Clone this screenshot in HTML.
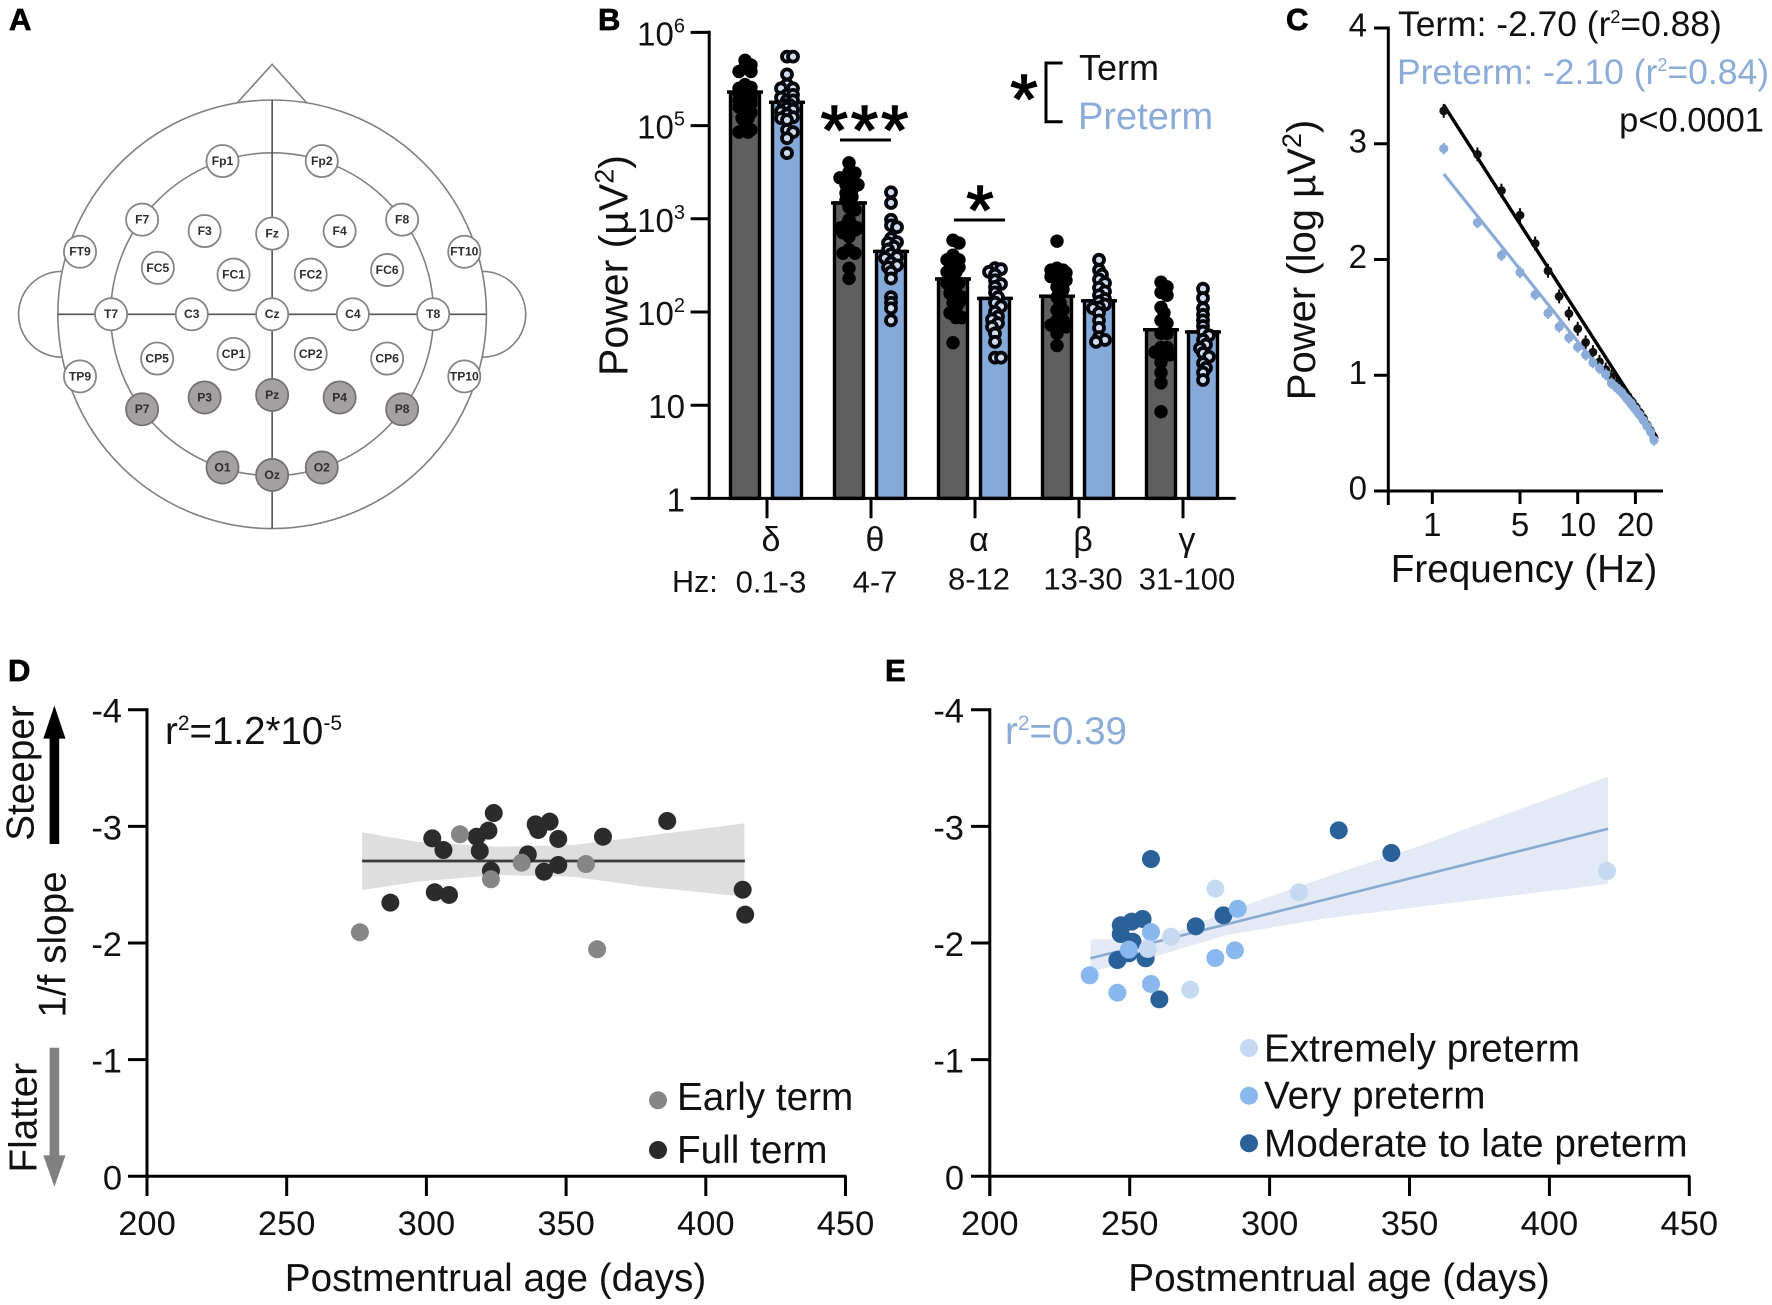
<!DOCTYPE html>
<html lang="en">
<head>
<meta charset="utf-8">
<title>EEG power and 1/f slope</title>
<style>
html,body{margin:0;padding:0;background:#fff;}
svg{display:block;font-family:"Liberation Sans",Arial,sans-serif;}
text{fill:#111;}
.panel-letter{font-weight:bold;font-size:31px;fill:#000;stroke:#000;stroke-width:.7px;}
.ttl{font-size:38.7px;}
.blue{fill:#8bacd8;}
.star{stroke:#000;stroke-width:1.5px;fill:#000;}
.el text{font-size:34px;font-weight:bold;text-anchor:middle;fill:#2d2d2d;}
.el circle{stroke:#858585;stroke-width:5;fill:#fff;}
.el.on circle{fill:#a5a1a2;stroke:#737373;}
</style>
</head>
<body>
<svg xmlns="http://www.w3.org/2000/svg" width="1772" height="1305" viewBox="0 0 1772 1305">
<rect width="1772" height="1305" fill="#fff"/>

<text class="panel-letter" x="9" y="30">A</text>
<text class="panel-letter" x="598" y="30">B</text>
<text class="panel-letter" x="1286" y="30">C</text>
<text class="panel-letter" x="8" y="681">D</text>
<text class="panel-letter" x="885" y="681">E</text>

<!-- Panel A: electrode montage -->
<g transform="scale(0.35714)">
  <g fill="none" stroke="#808080" stroke-width="4.5">
    <path d="M665 287 L762 180 L858 287"/>
    <path d="M172 760 A120 120 0 0 0 172 1000"/>
    <path d="M1352 760 A120 120 0 0 1 1352 1000"/>
    <circle cx="762" cy="880" r="600"/>
    <circle cx="762" cy="880" r="452"/>
    <path d="M762 280 V1480" stroke="#555"/>
    <path d="M162 880 H1362" stroke="#555"/>
  </g>
  <g class="el"><circle cx="623" cy="451" r="45"/><text x="623" y="462">Fp1</text></g>
  <g class="el"><circle cx="901" cy="451" r="45"/><text x="901" y="462">Fp2</text></g>
  <g class="el"><circle cx="398" cy="615" r="45"/><text x="398" y="626">F7</text></g>
  <g class="el"><circle cx="573" cy="647" r="45"/><text x="573" y="658">F3</text></g>
  <g class="el"><circle cx="762" cy="654" r="45"/><text x="762" y="665">Fz</text></g>
  <g class="el"><circle cx="951" cy="647" r="45"/><text x="951" y="658">F4</text></g>
  <g class="el"><circle cx="1126" cy="615" r="45"/><text x="1126" y="626">F8</text></g>
  <g class="el"><circle cx="224" cy="705" r="45"/><text x="224" y="716">FT9</text></g>
  <g class="el"><circle cx="1300" cy="705" r="45"/><text x="1300" y="716">FT10</text></g>
  <g class="el"><circle cx="442" cy="750" r="45"/><text x="442" y="761">FC5</text></g>
  <g class="el"><circle cx="654" cy="769" r="45"/><text x="654" y="780">FC1</text></g>
  <g class="el"><circle cx="870" cy="769" r="45"/><text x="870" y="780">FC2</text></g>
  <g class="el"><circle cx="1084" cy="756" r="45"/><text x="1084" y="767">FC6</text></g>
  <g class="el"><circle cx="311" cy="880" r="45"/><text x="311" y="891">T7</text></g>
  <g class="el"><circle cx="537" cy="880" r="45"/><text x="537" y="891">C3</text></g>
  <g class="el"><circle cx="762" cy="880" r="45"/><text x="762" y="891">Cz</text></g>
  <g class="el"><circle cx="988" cy="880" r="45"/><text x="988" y="891">C4</text></g>
  <g class="el"><circle cx="1213" cy="880" r="45"/><text x="1213" y="891">T8</text></g>
  <g class="el"><circle cx="224" cy="1054" r="45"/><text x="224" y="1065">TP9</text></g>
  <g class="el"><circle cx="1300" cy="1054" r="45"/><text x="1300" y="1065">TP10</text></g>
  <g class="el"><circle cx="440" cy="1004" r="45"/><text x="440" y="1015">CP5</text></g>
  <g class="el"><circle cx="654" cy="991" r="45"/><text x="654" y="1002">CP1</text></g>
  <g class="el"><circle cx="870" cy="991" r="45"/><text x="870" y="1002">CP2</text></g>
  <g class="el"><circle cx="1084" cy="1004" r="45"/><text x="1084" y="1015">CP6</text></g>
  <g class="el on"><circle cx="398" cy="1146" r="45"/><text x="398" y="1157">P7</text></g>
  <g class="el on"><circle cx="573" cy="1113" r="45"/><text x="573" y="1124">P3</text></g>
  <g class="el on"><circle cx="762" cy="1106" r="45"/><text x="762" y="1117">Pz</text></g>
  <g class="el on"><circle cx="951" cy="1113" r="45"/><text x="951" y="1124">P4</text></g>
  <g class="el on"><circle cx="1126" cy="1146" r="45"/><text x="1126" y="1157">P8</text></g>
  <g class="el on"><circle cx="623" cy="1309" r="45"/><text x="623" y="1320">O1</text></g>
  <g class="el on"><circle cx="762" cy="1330" r="45"/><text x="762" y="1341">Oz</text></g>
  <g class="el on"><circle cx="901" cy="1309" r="45"/><text x="901" y="1320">O2</text></g>
</g>

<!-- Panel B -->
<g id="panelB">
  <text transform="translate(627.5,265.5) rotate(-90)" text-anchor="middle" font-size="41">Power (µV<tspan font-size="27" dy="-14">2</tspan><tspan dy="14">)</tspan></text>
  <text x="672" y="592" font-size="30.5">Hz:</text>
  <path d="M1062.6 63 H1046 V121.8 H1062.6" fill="none" stroke="#000" stroke-width="3"/>
  <text class="star" x="1024" y="123" font-size="70" text-anchor="middle">*</text>
  <text x="1079" y="80" font-size="36">Term</text>
  <text class="blue" x="1078" y="129" font-size="38">Preterm</text>
  <text class="star" x="866" y="154" font-size="70" text-anchor="middle" letter-spacing="3">***</text>
  <line x1="840" x2="891" y1="140" y2="140" stroke="#000" stroke-width="3"/>
  <text class="star" x="980" y="234" font-size="70" text-anchor="middle">*</text>
  <line x1="954" x2="1005" y1="220" y2="220" stroke="#000" stroke-width="3"/>
</g>

<!-- Panel C -->
<g id="panelC">
  <text x="1398" y="36" font-size="35.4">Term: -2.70 (r<tspan font-size="18" dy="-13">2</tspan><tspan dy="13">=0.88)</tspan></text>
  <text class="blue" x="1397" y="84" font-size="35.5">Preterm: -2.10 (r<tspan font-size="18" dy="-13">2</tspan><tspan dy="13">=0.84)</tspan></text>
  <text x="1764" y="131.5" font-size="34.5" text-anchor="end">p&lt;0.0001</text>
  <text transform="translate(1315,260) rotate(-90)" text-anchor="middle" font-size="40">Power (log µV<tspan font-size="27" dy="-14">2</tspan><tspan dy="14">)</tspan></text>
  <text x="1524" y="582" text-anchor="middle" class="ttl">Frequency (Hz)</text>
</g>

<!-- Panel D -->
<g id="panelD">
  <polygon points="54.4,705.6 65.5,738.6 59.2,738.6 59.2,844 49.6,844 49.6,738.6 43.3,738.6" fill="#000"/>
  <polygon points="54.4,1186.8 65.5,1155.4 59.2,1155.4 59.2,1047.7 49.6,1047.7 49.6,1155.4 43.3,1155.4" fill="#808080"/>
  <text transform="translate(33.7,773) rotate(-90)" text-anchor="middle" class="ttl">Steeper</text>
  <text transform="translate(65.6,944.5) rotate(-90)" text-anchor="middle" class="ttl">1/f slope</text>
  <text transform="translate(36.5,1117.7) rotate(-90)" text-anchor="middle" class="ttl">Flatter</text>
  <text x="165" y="744" font-size="38.5">r<tspan font-size="21" dy="-14">2</tspan><tspan dy="14">=1.2*10</tspan><tspan font-size="21" dy="-14">-5</tspan></text>
  <text x="495.5" y="1291" text-anchor="middle" class="ttl">Postmentrual age (days)</text>
  <circle cx="658" cy="1100.3" r="9" fill="#868686"/>
  <text x="677" y="1110" class="ttl">Early term</text>
  <circle cx="658" cy="1150" r="9" fill="#2b2b2b"/>
  <text x="677" y="1163" class="ttl">Full term</text>
</g>

<!-- Panel E -->
<g id="panelE">
  <text class="blue" x="1005" y="744" font-size="38.5">r<tspan font-size="21" dy="-14">2</tspan><tspan dy="14">=0.39</tspan></text>
  <text x="1339" y="1291" text-anchor="middle" class="ttl">Postmentrual age (days)</text>
  <circle cx="1249" cy="1048" r="9" fill="#c5d9f1"/>
  <text x="1264" y="1061.4" class="ttl">Extremely preterm</text>
  <circle cx="1249" cy="1095.7" r="9" fill="#88b8ee"/>
  <text x="1264" y="1108.6" class="ttl">Very preterm</text>
  <circle cx="1249" cy="1143.3" r="9" fill="#2b6199"/>
  <text x="1264" y="1156.3" class="ttl">Moderate to late preterm</text>
</g>

<script>
/* ---------- Panel B data (log10 µV²) ---------- */
const bandNames = ['δ','θ','α','β','γ'];
const bandRanges = ['0.1-3','4-7','8-12','13-30','31-100'];
const powerTickLog = [0,1,2,3,5,6];
const powerTickBase = ['1','10','10','10','10','10'];
const powerTickExp = ['','','2','3','5','6'];
const termMeanLog = [5.36,3.34,2.354,2.17,1.81];
const pretermMeanLog = [5.25,2.65,2.146,2.12,1.786];
const termDelta = [5.70,5.65,5.63,5.58,5.58,5.44,5.41,5.40,5.38,5.38,5.35,5.35,5.31,5.31,5.27,5.27,5.24,5.24,5.20,5.20,5.14,5.14,5.08,5.08,5.03,4.91,4.91,4.86,4.86];
const termTheta = [4.20,4.00,3.98,3.88,3.88,3.77,3.73,3.73,3.62,3.55,3.47,3.40,3.25,3.19,2.99,2.93,2.93,2.90,2.90,2.88,2.88,2.85,2.81,2.67,2.63,2.63,2.47,2.36];
const termAlpha = [2.77,2.74,2.61,2.56,2.56,2.48,2.48,2.43,2.43,2.36,2.31,2.31,2.26,2.20,2.20,2.16,2.10,2.10,2.04,1.99,1.94,1.94,1.67];
const termBeta = [2.76,2.47,2.45,2.45,2.42,2.42,2.38,2.38,2.34,2.27,2.24,2.16,2.10,2.02,2.02,1.91,1.91,1.86,1.86,1.84,1.84,1.77,1.64];
const termGamma = [2.32,2.27,2.21,2.18,2.05,1.99,1.91,1.88,1.77,1.77,1.62,1.62,1.57,1.57,1.54,1.54,1.46,1.35,1.24,0.93];
const pretermDelta = [5.74,5.74,5.55,5.44,5.40,5.40,5.33,5.33,5.30,5.27,5.27,5.22,5.22,5.19,5.17,5.15,5.12,5.09,5.08,5.06,4.91,4.86,4.73,4.41];
const pretermTheta = [3.57,3.34,2.99,2.93,2.91,2.79,2.75,2.74,2.70,2.67,2.62,2.59,2.58,2.53,2.50,2.48,2.43,2.36,2.16,2.10,2.04,1.91];
const pretermAlpha = [2.47,2.46,2.43,2.40,2.34,2.30,2.27,2.21,2.16,2.10,2.06,2.00,1.95,1.92,1.88,1.84,1.77,1.68,1.51,1.51];
const pretermBeta = [2.56,2.45,2.40,2.35,2.31,2.26,2.22,2.18,2.14,2.11,2.08,2.05,2.04,1.99,1.91,1.83,1.73,1.70,1.68];
const pretermGamma = [2.25,2.15,2.04,1.97,1.91,1.85,1.79,1.75,1.70,1.65,1.61,1.56,1.52,1.45,1.40,1.35,1.27];

/* ---------- Panel C data ---------- */
const freqHz = [2,3,4,5,6,7,8,9,10,11,12,13,14,15,16,17,18,19,20,21,22,23,24,25];
const termSpectrum = [3.284,2.908,2.595,2.383,2.138,1.903,1.681,1.533,1.402,1.284,1.2,1.116,1.049,0.988,0.93,0.87,0.82,0.78,0.73,0.68,0.63,0.57,0.52,0.46];
const pretermSpectrum = [2.958,2.319,2.037,1.889,1.697,1.536,1.418,1.324,1.244,1.176,1.109,1.059,1.008,0.931,0.89,0.85,0.80,0.76,0.71,0.66,0.61,0.56,0.51,0.44];
const spectrumFitHz = [2,25.6];
const termFit = [3.334,0.477];
const pretermFit = [2.74,0.444];
const spectrumYTicks = [0,1,2,3,4];
const spectrumXTicks = [1.744,5,10,20];
const spectrumXLabels = ['1','5','10','20'];

/* ---------- Panels D / E data ---------- */
const slopeTicks = [-4,-3,-2,-1,0];
const ageTicks = [200,250,300,350,400,450];
const fullTermDays = [324.1,302.1,306.1,322.2,318,319.1,323.1,339.1,340,344.1,347.2,363.2,386.2,336.3,347.2,342.1,303,308.1,287.1,413.2,414.1];
const fullTermSlope = [-3.114,-2.897,-2.797,-2.963,-2.911,-2.789,-2.62,-3.017,-2.969,-3.04,-2.892,-2.911,-3.046,-2.76,-2.669,-2.611,-2.435,-2.412,-2.346,-2.457,-2.243];
const earlyTermDays = [312,334.1,357.1,323.1,276.2,361.1];
const earlyTermSlope = [-2.932,-2.688,-2.677,-2.546,-2.092,-1.946];
const termBandDays = [277,296.5,325.2,352.6,376.4,413.8];
const termBandUpper = [-2.949,-2.868,-2.825,-2.84,-2.911,-3.026];
const termBandLower = [-2.454,-2.525,-2.583,-2.568,-2.488,-2.397];
const termFitDays = [277,414];
const termFitSlope = [-2.703,-2.703];
const moderateDays = [257.6,324.7,343.5,254.6,250.7,246.8,246.8,251,245.6,249.7,255.7,260.6,273.6,283.5];
const moderateSlope = [-2.72,-2.966,-2.772,-2.206,-2.183,-2.152,-2.077,-2.011,-1.854,-1.912,-1.869,-1.517,-2.143,-2.237];
const veryDays = [288.6,257.6,249.7,287.6,280.6,235.7,257.6,245.6];
const verySlope = [-2.294,-2.094,-1.943,-1.937,-1.871,-1.723,-1.649,-1.574];
const extremeDays = [280.6,310.5,264.8,256.5,271.6,420.6];
const extremeSlope = [-2.466,-2.435,-2.054,-1.949,-1.6,-2.617];
const pretermBandDays = [236,260.8,284.7,320.4,353.8,421];
const pretermBandUpper = [-2.032,-2.034,-2.268,-2.568,-2.834,-3.426];
const pretermBandLower = [-1.755,-1.897,-2.069,-2.212,-2.311,-2.506];
const pretermFitDays = [236,421];
const pretermFitSlope = [-1.869,-2.979];

/* ---------- helpers ---------- */
const NS = 'http://www.w3.org/2000/svg';
function mk(parent, tag, attrs, txt) {
  const el = document.createElementNS(NS, tag);
  for (const k in attrs) el.setAttribute(k, attrs[k]);
  if (txt !== undefined) el.textContent = txt;
  parent.appendChild(el);
  return el;
}
function axisLine(parent, x1, y1, x2, y2, name) {
  const el = mk(parent, 'line', {x1, y1, x2, y2, stroke: '#000', 'stroke-width': 3});
  
  
}
function label(parent, x, y, size, anchor, txt, name) {
  const el = mk(parent, 'text', {x, y, 'font-size': size, 'text-anchor': anchor}, txt);
  
  
  return el;
}
function dot(parent, cx, cy, r, fill, name) {
  const el = mk(parent, 'circle', {cx, cy, r, fill});
  
  
  return el;
}
function polyline(parent, xs, ys, color, width, name) {
  const el = mk(parent, 'polyline', {points: xs.map((x, i) => x + ',' + ys[i]).join(' '), fill: 'none', stroke: color, 'stroke-width': width});
  
  
}
function band(parent, days, upper, lower, xf, yf, fill, name) {
  const top = days.map((d, i) => xf(d) + ',' + yf(upper[i]));
  const bot = days.map((d, i) => xf(d) + ',' + yf(lower[i])).reverse();
  const el = mk(parent, 'polygon', {points: top.concat(bot).join(' '), fill});
  
  
}

/* ---------- Panel B ---------- */
const gB = document.getElementById('panelB');
function yB(logV) {
  let idx = powerTickLog.length - 1;
  for (let i = 0; i < powerTickLog.length - 1; i++) {
    if (logV <= powerTickLog[i + 1]) {
      idx = i + (logV - powerTickLog[i]) / (powerTickLog[i + 1] - powerTickLog[i]);
      break;
    }
  }
  return 498.4 - idx * 93.2;
}
function xB(i) { return 767 + i * 104; }
function swarm(vals, step, minDist, maxOff) {
  const placed = [];
  return vals.map(v => {
    const y = yB(v);
    let best = 0, bestD = -1;
    for (let o = 0; o <= maxOff; o += step) {
      for (const s of (o === 0 ? [0] : [1, -1])) {
        let d = Infinity;
        for (const p of placed) d = Math.min(d, Math.hypot(p[0] - s * o, p[1] - y));
        if (d > bestD) { bestD = d; best = s * o; }
        if (d >= minDist) { placed.push([s * o, y]); return [s * o, y]; }
      }
    }
    placed.push([best, y]);
    return [best, y];
  });
}
const termDots = [termDelta, termTheta, termAlpha, termBeta, termGamma];
const pretermDots = [pretermDelta, pretermTheta, pretermAlpha, pretermBeta, pretermGamma];
function drawBar(i, cx, logV, fill, name) {
  const top = yB(logV);
  const r = mk(gB, 'rect', {x: cx - 14.5, y: top, width: 29, height: 498.4 - top, fill, stroke: '#000', 'stroke-width': 3.4});
  
  
  const cap = mk(gB, 'line', {x1: cx - 18, x2: cx + 18, y1: top, y2: top, stroke: '#000', 'stroke-width': 3.4});
  
  
}
bandNames.forEach((b, i) => {
  drawBar(i, xB(i) - 22, termMeanLog[i], '#5f5f5f', 'term-band-' + i);
  drawBar(i, xB(i) + 20, pretermMeanLog[i], '#85a9d8', 'preterm-band-' + i);
  swarm(termDots[i], 3, 6, i === 0 ? 7 : 9).forEach(p => {
    dot(gB, xB(i) - 22 + p[0], p[1], 6.7, '#000', 'term-subject-dot');
  });
  swarm(pretermDots[i], 3, 5, 7).forEach(p => {
    const c = dot(gB, xB(i) + 20 + p[0], p[1], 5, '#cfdcf0', 'preterm-subject-dot');
    c.setAttribute('stroke', '#05070c');
    c.setAttribute('stroke-width', '3.8');
  });
  axisLine(gB, xB(i), 498.4, xB(i), 518.3, 'x-tick');
  label(gB, xB(i) + 4, 551, 34, 'middle', b, 'band-name-label');
  label(gB, xB(i) + 4, i < 2 ? 592.5 : 589.5, 31, 'middle', bandRanges[i], 'band-range-label');
});
axisLine(gB, 709.2, 30.8, 709.2, 500, 'y-axis-line');
axisLine(gB, 709.2, 498.4, 1235.7, 498.4, 'x-axis-line');
powerTickLog.forEach((v, i) => {
  axisLine(gB, 690.6, yB(v), 709.2, yB(v), 'y-tick');
  const t = label(gB, 685, yB(v) + 13, 33, 'end', powerTickBase[i], 'y-tick-label');
  if (powerTickExp[i]) {
    const s = mk(t, 'tspan', {'font-size': 20, dy: -13}, powerTickExp[i]);
    
    
  }
});

/* ---------- Panel C ---------- */
const gC = document.getElementById('panelC');
function xC(f) { return 1520 + 191.7 * Math.log10(f / 5); }
function yC(v) { return 491 - 115.75 * v; }
axisLine(gC, 1388.3, 26.5, 1388.3, 505, 'y-axis-line');
axisLine(gC, 1388.3, 491, 1663, 491, 'x-axis-line');
spectrumYTicks.forEach(v => {
  axisLine(gC, 1374, yC(v), 1388.3, yC(v), 'y-tick');
  label(gC, 1367, yC(v) + 8.5, 33, 'end', String(v), 'y-tick-label');
});
spectrumXTicks.forEach((f, i) => {
  axisLine(gC, xC(f), 491, xC(f), 504, 'x-tick');
  label(gC, xC(f), 536, 33, 'middle', spectrumXLabels[i], 'x-tick-label');
});
polyline(gC, spectrumFitHz.map(xC), termFit.map(yC), '#000', 3.4, 'term-fit-line');
freqHz.forEach((f, i) => {
  const e = mk(gC, 'line', {x1: xC(f), x2: xC(f), y1: yC(termSpectrum[i] + 0.06), y2: yC(termSpectrum[i] - 0.06), stroke: '#000', 'stroke-width': 2});
  
  
  dot(gC, xC(f), yC(termSpectrum[i]), 4.4, '#111', 'term-spectrum-point');
});
polyline(gC, spectrumFitHz.map(xC), pretermFit.map(yC), '#8bacd8', 3.2, 'preterm-fit-line');
freqHz.forEach((f, i) => {
  const e = mk(gC, 'line', {x1: xC(f), x2: xC(f), y1: yC(pretermSpectrum[i] + 0.05), y2: yC(pretermSpectrum[i] - 0.05), stroke: '#8bacd8', 'stroke-width': 2});
  
  
  dot(gC, xC(f), yC(pretermSpectrum[i]), 4.6, '#8bacd8', 'preterm-spectrum-point');
});

/* ---------- Panels D / E ---------- */
function ySlope(v) { return 1176.3 + 116.65 * v; }
function xD(d) { return 147 + (d - 200) * 2.794; }
function xE(d) { return 989.8 + (d - 200) * 2.798; }
function slopeAxes(g, xf, axisX, tickLeft, labelRight) {
  axisLine(g, axisX, 708.2, axisX, 1196, 'y-axis-line');
  axisLine(g, axisX, 1176.3, xf(450) + 1, 1176.3, 'x-axis-line');
  slopeTicks.forEach(v => {
    axisLine(g, tickLeft, ySlope(v), axisX, ySlope(v), 'y-tick');
    label(g, labelRight, ySlope(v) + 13, 34.5, 'end', String(v), 'y-tick-label');
  });
  ageTicks.forEach(d => {
    axisLine(g, xf(d), 1176.3, xf(d), 1196, 'x-tick');
    label(g, xf(d), 1234.8, 34.5, 'middle', String(d), 'x-tick-label');
  });
}
const gD = document.getElementById('panelD');
band(gD, termBandDays, termBandUpper, termBandLower, xD, ySlope, '#dedede', 'term-confidence-band');
slopeAxes(gD, xD, 147, 128, 122);
polyline(gD, termFitDays.map(xD), termFitSlope.map(ySlope), '#3a3a3a', 2.8, 'term-regression-line');
fullTermDays.forEach((d, i) => {
  dot(gD, xD(d), ySlope(fullTermSlope[i]), 9, '#2b2b2b', 'full-term-point');
});
earlyTermDays.forEach((d, i) => {
  dot(gD, xD(d), ySlope(earlyTermSlope[i]), 9, '#868686', 'early-term-point');
});

const gE = document.getElementById('panelE');
band(gE, pretermBandDays, pretermBandUpper, pretermBandLower, xE, ySlope, '#e3eaf6', 'preterm-confidence-band');
slopeAxes(gE, xE, 989.8, 971, 964);
polyline(gE, pretermFitDays.map(xE), pretermFitSlope.map(ySlope), '#8aa9cf', 2.6, 'preterm-regression-line');
moderateDays.forEach((d, i) => {
  dot(gE, xE(d), ySlope(moderateSlope[i]), 9, '#2b6199', 'moderate-late-preterm-point');
});
veryDays.forEach((d, i) => {
  dot(gE, xE(d), ySlope(verySlope[i]), 9, '#88b8ee', 'very-preterm-point');
});
extremeDays.forEach((d, i) => {
  dot(gE, xE(d), ySlope(extremeSlope[i]), 9, '#c5d9f1', 'extremely-preterm-point');
});
</script>
</svg>
</body>
</html>
